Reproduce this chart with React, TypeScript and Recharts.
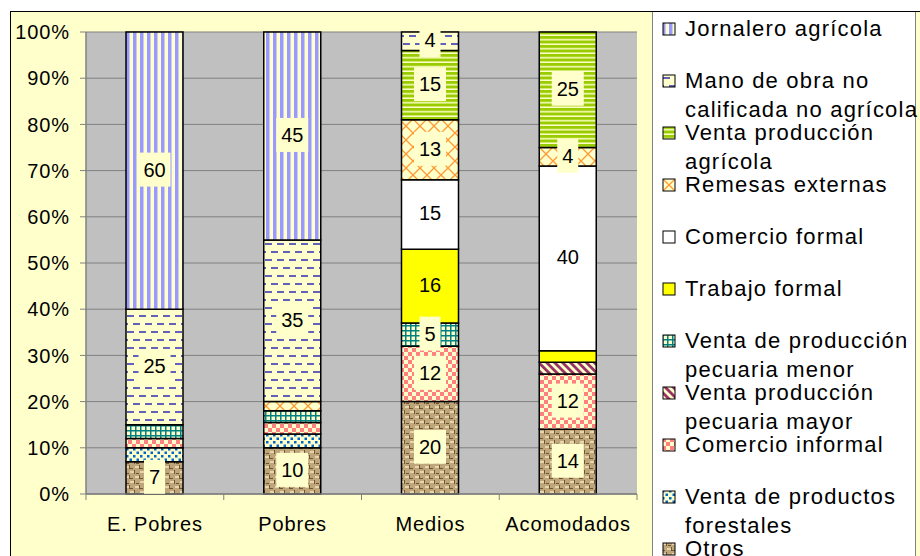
import React from 'react';
import { BarChart, Bar, XAxis, YAxis, CartesianGrid, LabelList, Legend } from 'recharts';

const categories = ['E. Pobres', 'Pobres', 'Medios', 'Acomodados'];

const otros = [7, 10, 20, 14];
const forestales = [3, 3, 0, 0];
const comercioInformal = [2, 2.5, 12, 12];
const pecuariaMayor = [0, 0, 0, 2.5];
const pecuariaMenor = [3, 2.5, 5, 0];
const trabajoFormal = [0, 0, 16, 2.5];
const comercioFormal = [0, 0, 15, 40];
const remesas = [0, 2, 13, 4];
const ventaAgricola = [0, 0, 15, 25];
const manoObra = [25, 35, 4, 0];
const jornalero = [60, 45, 0, 0];

const yTicks = [0, 10, 20, 30, 40, 50, 60, 70, 80, 90, 100];

// stack order, bottom to top
const series = [
  { key: 'otros', name: 'Otros', lines: ['Otros'], values: otros, fill: 'url(#pOtros)', patterned: true },
  { key: 'forestales', name: 'Venta de productos forestales', lines: ['Venta de productos', 'forestales'], values: forestales, fill: 'url(#pFor)', patterned: true },
  { key: 'cinf', name: 'Comercio informal', lines: ['Comercio informal'], values: comercioInformal, fill: 'url(#pCinf)', patterned: true },
  { key: 'pmay', name: 'Venta producción pecuaria mayor', lines: ['Venta producción', 'pecuaria mayor'], values: pecuariaMayor, fill: 'url(#pPmay)', patterned: true },
  { key: 'pmen', name: 'Venta de producción pecuaria menor', lines: ['Venta de producción', 'pecuaria menor'], values: pecuariaMenor, fill: 'url(#pPmen)', patterned: true },
  { key: 'tform', name: 'Trabajo formal', lines: ['Trabajo formal'], values: trabajoFormal, fill: '#FFFF00', patterned: false },
  { key: 'cform', name: 'Comercio formal', lines: ['Comercio formal'], values: comercioFormal, fill: '#FFFFFF', patterned: false },
  { key: 'rem', name: 'Remesas externas', lines: ['Remesas externas'], values: remesas, fill: 'url(#pRem)', patterned: true },
  { key: 'agr', name: 'Venta producción agrícola', lines: ['Venta producción', 'agrícola'], values: ventaAgricola, fill: 'url(#pAgr)', patterned: true },
  { key: 'mano', name: 'Mano de obra no calificada no agrícola', lines: ['Mano de obra no', 'calificada no agrícola'], values: manoObra, fill: 'url(#pMano)', patterned: true },
  { key: 'jor', name: 'Jornalero agrícola', lines: ['Jornalero agrícola'], values: jornalero, fill: 'url(#pJor)', patterned: true },
];

const data = categories.map((c, i) => {
  const row: any = { category: c };
  series.forEach((s) => { row[s.key] = s.values[i]; });
  return row;
});

const FONT = '"Liberation Sans", Arial, sans-serif';
const PALE = '#FFFFCC';
const LEGEND_W = 264;
const X_TICK_SIZE = 6;
const X_TICK_MARGIN = 17;

const Patterns = () => (
  <svg width={0} height={0} style={{ position: 'absolute' }}>
    <defs>
      <pattern id="pJor" width="7" height="8" patternUnits="userSpaceOnUse">
        <rect width="7" height="8" fill={PALE} />
        <rect x="0" width="3.5" height="8" fill="#9999FF" />
      </pattern>
      <pattern id="pMano" width="12" height="16" patternUnits="userSpaceOnUse">
        <rect width="12" height="16" fill={PALE} />
        <rect x="1" y="3" width="7" height="2" fill="#6262BA" />
        <rect x="7" y="11" width="7" height="2" fill="#6262BA" />
        <rect x="-5" y="11" width="7" height="2" fill="#6262BA" />
      </pattern>
      <pattern id="pAgr" width="8" height="4.5" patternUnits="userSpaceOnUse">
        <rect width="8" height="4.5" fill={PALE} />
        <rect y="0" width="8" height="3" fill="#99CC00" />
      </pattern>
      <pattern id="pRem" width="14" height="14" patternUnits="userSpaceOnUse">
        <rect width="14" height="14" fill={PALE} />
        <path d="M0 0 L14 14 M14 0 L0 14" stroke="#FF9933" strokeWidth="1.3" />
      </pattern>
      <pattern id="pPmen" width="5" height="5" patternUnits="userSpaceOnUse">
        <rect width="5" height="5" fill={PALE} />
        <rect x="0" y="0" width="1.5" height="5" fill="#008080" />
        <rect x="0" y="0" width="5" height="1.5" fill="#008080" />
      </pattern>
      <pattern id="pPmay" width="5.6" height="8" patternUnits="userSpaceOnUse" patternTransform="rotate(-45)">
        <rect width="5.6" height="8" fill={PALE} />
        <rect x="0" width="2.8" height="8" fill="#993366" />
      </pattern>
      <pattern id="pCinf" width="8" height="8" patternUnits="userSpaceOnUse">
        <rect width="8" height="8" fill={PALE} />
        <rect x="0" y="0" width="4" height="4" fill="#FF8080" />
        <rect x="4" y="4" width="4" height="4" fill="#FF8080" />
      </pattern>
      <pattern id="pFor" width="7" height="7" patternUnits="userSpaceOnUse">
        <rect width="7" height="7" fill={PALE} />
        <rect x="0" y="0" width="2.5" height="2.5" fill="#0066CC" />
        <rect x="3.5" y="3.5" width="2.5" height="2.5" fill="#0066CC" />
      </pattern>
      <pattern id="pOtros" width="10" height="10" patternUnits="userSpaceOnUse">
        <rect width="10" height="10" fill="#BFA57A" />
        <rect x="0" y="1" width="4" height="2" fill="#E6D6AE" />
        <rect x="5" y="6" width="4" height="2" fill="#E6D6AE" />
        <rect x="4" y="0" width="1" height="4" fill="#6E5534" />
        <rect x="9" y="5" width="1" height="4" fill="#6E5534" />
        <rect x="0" y="8" width="3" height="1" fill="#6E5534" />
        <rect x="6" y="3" width="3" height="1" fill="#6E5534" />
      </pattern>
    </defs>
  </svg>
);

const makeLabel = (patterned: boolean) => (props: any) => {
  const vb = props.viewBox || {};
  const x = props.x ?? vb.x;
  const y = props.y ?? vb.y;
  const width = props.width ?? vb.width;
  const height = props.height ?? vb.height;
  const value = props.value;
  if (value == null || Number(value) < 4) return null;
  const cx = x + width / 2;
  const cy = y + height / 2 - 1;
  const txt = String(value);
  const bw = txt.length * 11 + 10;
  const bh = 34;
  return (
    <g>
      {patterned && <rect x={cx - bw / 2} y={cy - bh / 2} width={bw} height={bh} fill={PALE} />}
      <text x={cx} y={cy} textAnchor="middle" dominantBaseline="central" fontSize={20} fill="#000" fontFamily={FONT}>
        {txt}
      </text>
    </g>
  );
};

// Category tick: label text plus Excel-style tick marks on the category boundaries
const CategoryTick = (props: any) => {
  const { x, y, payload, index, visibleTicksCount } = props;
  const half = payload && payload.offset ? payload.offset : 0;
  const axisY = y - X_TICK_SIZE - X_TICK_MARGIN;
  const isLast = visibleTicksCount != null ? index === visibleTicksCount - 1 : index === categories.length - 1;
  return (
    <g>
      {half > 0 && (
        <line x1={x - half} x2={x - half} y1={axisY} y2={axisY + X_TICK_SIZE} stroke="#808080" strokeWidth={1} />
      )}
      {half > 0 && isLast && (
        <line x1={x + half} x2={x + half} y1={axisY} y2={axisY + X_TICK_SIZE} stroke="#808080" strokeWidth={1} />
      )}
      <text x={x} y={y} dy="0.71em" textAnchor="middle" fontSize={20} fill="#000" fontFamily={FONT} letterSpacing={0.9}>
        {payload.value}
      </text>
    </g>
  );
};

const LegendBox = () => {
  const items = [...series].reverse();
  return (
    <div
      style={{
        position: 'relative',
        width: LEGEND_W,
        height: 560,
        background: '#FFFFFF',
        borderLeft: '1px solid #808080',
        borderRight: '1px solid #808080',
        boxSizing: 'border-box',
        fontFamily: FONT,
        overflow: 'visible',
      }}
    >
      {items.map((s, i) => (
        <div key={s.key} style={{ position: 'absolute', left: 0, top: 2 + 52 * i, width: 300 }}>
          <svg width={14} height={14} style={{ position: 'absolute', left: 9, top: 8 }}>
            <rect x={1} y={1} width={12} height={12} fill={s.fill} stroke="#000" strokeWidth={1} />
          </svg>
          <div
            style={{
              position: 'absolute',
              left: 32,
              top: 0,
              fontSize: 22,
              lineHeight: '29px',
              letterSpacing: '1.2px',
              color: '#000',
              whiteSpace: 'nowrap',
            }}
          >
            {s.lines.map((l, j) => (
              <div key={j}>{l}</div>
            ))}
          </div>
        </div>
      ))}
    </div>
  );
};

export default function App() {
  return (
    <div style={{ position: 'absolute', left: 0, top: 0, width: 920, height: 556, overflow: 'hidden', background: '#FFFFFF' }}>
      <Patterns />
      <div
        style={{
          position: 'absolute',
          left: 10,
          top: 11,
          width: 1000,
          height: 1000,
          background: PALE,
          border: '1.5px solid #000',
        }}
      />
      <div style={{ position: 'absolute', left: 0, top: 0 }}>
        <BarChart
          width={920}
          height={556}
          data={data}
          margin={{ top: 32, right: 283 - LEGEND_W, bottom: 22, left: 0 }}
          barSize={57}
        >
          <CartesianGrid fill="#C0C0C0" stroke="#808080" strokeWidth={1} vertical={false} />
          <XAxis
            dataKey="category"
            height={40}
            interval={0}
            axisLine={{ stroke: '#808080', strokeWidth: 1.5 }}
            tickLine={false}
            tickSize={X_TICK_SIZE}
            tickMargin={X_TICK_MARGIN}
            tick={<CategoryTick />}
          />
          <YAxis
            domain={[0, 100]}
            ticks={yTicks}
            width={86}
            tickFormatter={(v: number) => `${v}%`}
            axisLine={{ stroke: '#808080', strokeWidth: 1.5 }}
            tickLine={{ stroke: '#808080' }}
            tickSize={6}
            tickMargin={10}
            tick={{ fontSize: 20, fill: '#000', fontFamily: FONT, letterSpacing: 0.9 }}
          />
          <YAxis
            yAxisId="r"
            orientation="right"
            domain={[0, 100]}
            width={0}
            tick={false}
            tickLine={false}
            axisLine={{ stroke: '#808080', strokeWidth: 2 }}
          />
          <Legend
            layout="vertical"
            verticalAlign="top"
            align="right"
            content={() => <LegendBox />}
            wrapperStyle={{ left: 652, top: 12, width: LEGEND_W, height: 560 }}
          />
          {series.map((s) => (
            <Bar
              key={s.key}
              dataKey={s.key}
              name={s.name}
              stackId="a"
              fill={s.fill}
              stroke="#000"
              strokeWidth={1.5}
              isAnimationActive={false}
            >
              <LabelList dataKey={s.key} content={makeLabel(s.patterned)} />
            </Bar>
          ))}
        </BarChart>
      </div>
    </div>
  );
}
